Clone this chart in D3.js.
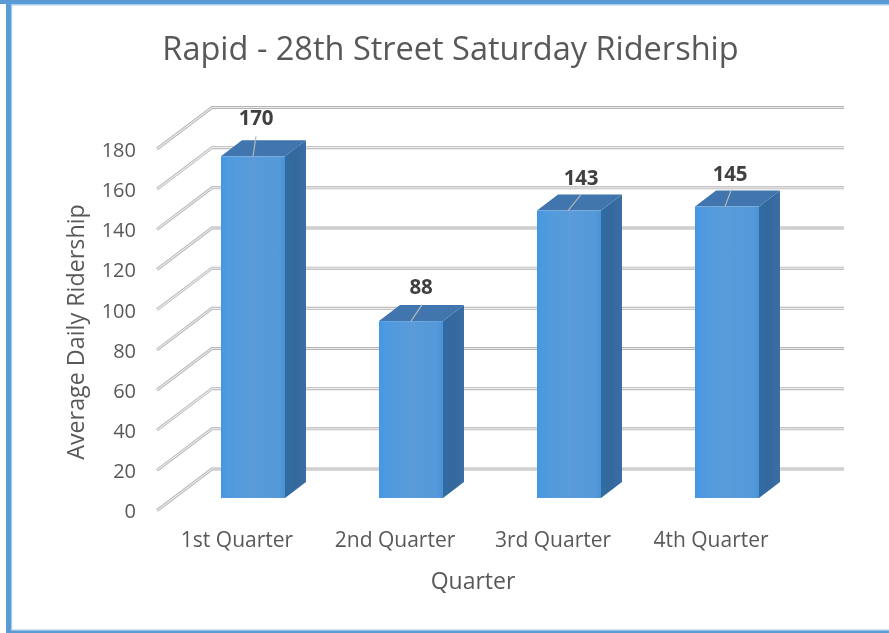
<!DOCTYPE html>
<html><head><meta charset="utf-8">
<script src="https://cdn.jsdelivr.net/npm/d3@7"></script>
<style>html,body{margin:0;padding:0;background:#fff}svg{display:block}text{font-family:"Open Sans",sans-serif}</style>
</head><body><svg id="c" width="889" height="633"></svg>
<script>
const titleText = "Rapid - 28th Street Saturday Ridership";
const categories = ["1st Quarter","2nd Quarter","3rd Quarter","4th Quarter"];
const values = [170,88,143,145];
const ticks = [0,20,40,60,80,100,120,140,160,180];
const yTitle = "Average Daily Ridership";
const xTitle = "Quarter";

// layout nudges for the data labels and their leader lines, per bar
const labelDx = [3,10,12,3];
const labelDy = [-31,-27,-26,-26];
const leadDx = [3,11,13,6];
const leadDy = [-20,-16.5,-16,-16];
const leadStart = [0,0,-1,-2];

const svg = d3.select("#c");
const defs = svg.append("defs");
const front = defs.append("linearGradient").attr("id","front");
[[0,"#4497e4"],[0.1,"#4e9ae0"],[0.5,"#5a9bd8"],[0.9,"#5499da"],[1,"#4c92d4"]].forEach(s=>front.append("stop").attr("offset",s[0]).attr("stop-color",s[1]));
const side = defs.append("linearGradient").attr("id","side");
[[0,"#2e6da4"],[0.5,"#35689c"],[1,"#3a6fa6"]].forEach(s=>side.append("stop").attr("offset",s[0]).attr("stop-color",s[1]));
defs.append("filter").attr("id","soft").append("feGaussianBlur").attr("stdDeviation",0.55);
const txt = defs.append("filter").attr("id","softText");
txt.append("feGaussianBlur").attr("stdDeviation",0.3);

// frame: top, left and bottom bands only
const frame = svg.append("g");
frame.append("rect").attr("x",6).attr("y",4).attr("width",883).attr("height",1.5).attr("fill","#a9cdee");
frame.append("rect").attr("x",11).attr("y",4).attr("width",1.2).attr("height",626).attr("fill","#a9cdee");
frame.append("rect").attr("x",6).attr("y",629.5).attr("width",883).attr("height",1).attr("fill","#a9cdee");
frame.append("rect").attr("x",0).attr("y",0).attr("width",889).attr("height",4).attr("fill","#5b9bd5");
frame.append("rect").attr("x",6).attr("y",0).attr("width",5).attr("height",633).attr("fill","#5b9bd5");
frame.append("rect").attr("x",6).attr("y",630.5).attr("width",883).attr("height",2.5).attr("fill","#5b9bd5");

const y = d3.scaleLinear().domain([0,180]).range([510.5,149]);      // front plane of the axis wall
const barY = d3.scaleLinear().domain([0,180]).range([498,136.2]);   // bars sit in from the floor edge
const x = d3.scaleBand().domain(categories).range([174,806]);
const barW = 64, dx = 21, dy = -16, wallDx = 55, wallDy = -41.5, wallRight = 844;
const barX = d => x(d) + (x.bandwidth()-barW)/2;
const rows = categories.map((c,i)=>({c,v:values[i],i}));

// gridlines
const g = svg.append("g").attr("filter","url(#soft)");
const grid = d3.line();
ticks.forEach(t=>{
  const pts=[[157,y(t)],[157+wallDx,y(t)+wallDy],[wallRight,y(t)+wallDy]];
  g.append("path").attr("d",grid(pts)).attr("fill","none").attr("stroke","#b4b4b4").attr("stroke-width",3);
  g.append("path").attr("d",grid(pts)).attr("fill","none").attr("stroke","#ececec").attr("stroke-width",1.2);
});

// bars
const bars = g.selectAll(".bar").data(rows).join("g");
bars.append("path").attr("fill","url(#side)").attr("d",d=>{
  const l=barX(d.c)+barW,t=barY(d.v),b=barY(0);
  return d3.line()([[l,t],[l+dx,t+dy],[l+dx,b+dy],[l,b]])+"Z";});
bars.append("path").attr("fill","#3f74ad").attr("d",d=>{
  const l=barX(d.c),t=barY(d.v);
  return d3.line()([[l,t],[l+dx,t+dy],[l+dx+barW,t+dy],[l+barW,t]])+"Z";});
bars.append("rect").attr("fill","url(#front)")
  .attr("x",d=>barX(d.c)).attr("y",d=>barY(d.v)).attr("width",barW).attr("height",d=>barY(0)-barY(d.v));

// leader lines
svg.selectAll(".lead").data(rows).join("path")
  .attr("fill","none").attr("stroke","#b5b8ba").attr("stroke-width",1.2)
  .attr("d",d=>{const m=barX(d.c)+barW/2+leadStart[d.i],t=barY(d.v);
    return d3.line()([[m,t],[m+leadDx[d.i],t+leadDy[d.i]]]);});

const texts = svg.append("g").attr("filter","url(#softText)");

// value labels
texts.selectAll(".val").data(rows).join("text")
  .attr("x",d=>barX(d.c)+barW/2+labelDx[d.i]).attr("y",d=>barY(d.v)+labelDy[d.i])
  .attr("text-anchor","middle").attr("font-size",20.5).attr("font-weight",700).attr("fill","#404040")
  .attr("letter-spacing",-0.3).text(d=>d.v);

// axes text
const axisL = texts.append("g").attr("transform","translate(136,1)")
  .call(d3.axisLeft(y).tickValues(ticks).tickSize(0).tickPadding(0));
axisL.select(".domain").remove();
axisL.selectAll("text").attr("font-size",20).attr("font-family",'"Open Sans",sans-serif').attr("fill","#595959");

const axisB = texts.append("g").attr("transform","translate(-16,532)")
  .call(d3.axisBottom(x).tickSize(0).tickPadding(0));
axisB.select(".domain").remove();
axisB.selectAll("text").attr("font-size",21).attr("font-family",'"Open Sans",sans-serif').attr("fill","#595959");

texts.append("text").attr("x",450.5).attr("y",60).attr("text-anchor","middle").attr("font-size",32.5).attr("fill","#595959").text(titleText);
texts.append("text").attr("x",473).attr("y",589).attr("text-anchor","middle").attr("font-size",23).attr("fill","#595959").text(xTitle);
texts.append("text").attr("transform","translate(84,332) rotate(-90)").attr("text-anchor","middle").attr("font-size",23.3).attr("fill","#595959").text(yTitle);
</script></body></html>
